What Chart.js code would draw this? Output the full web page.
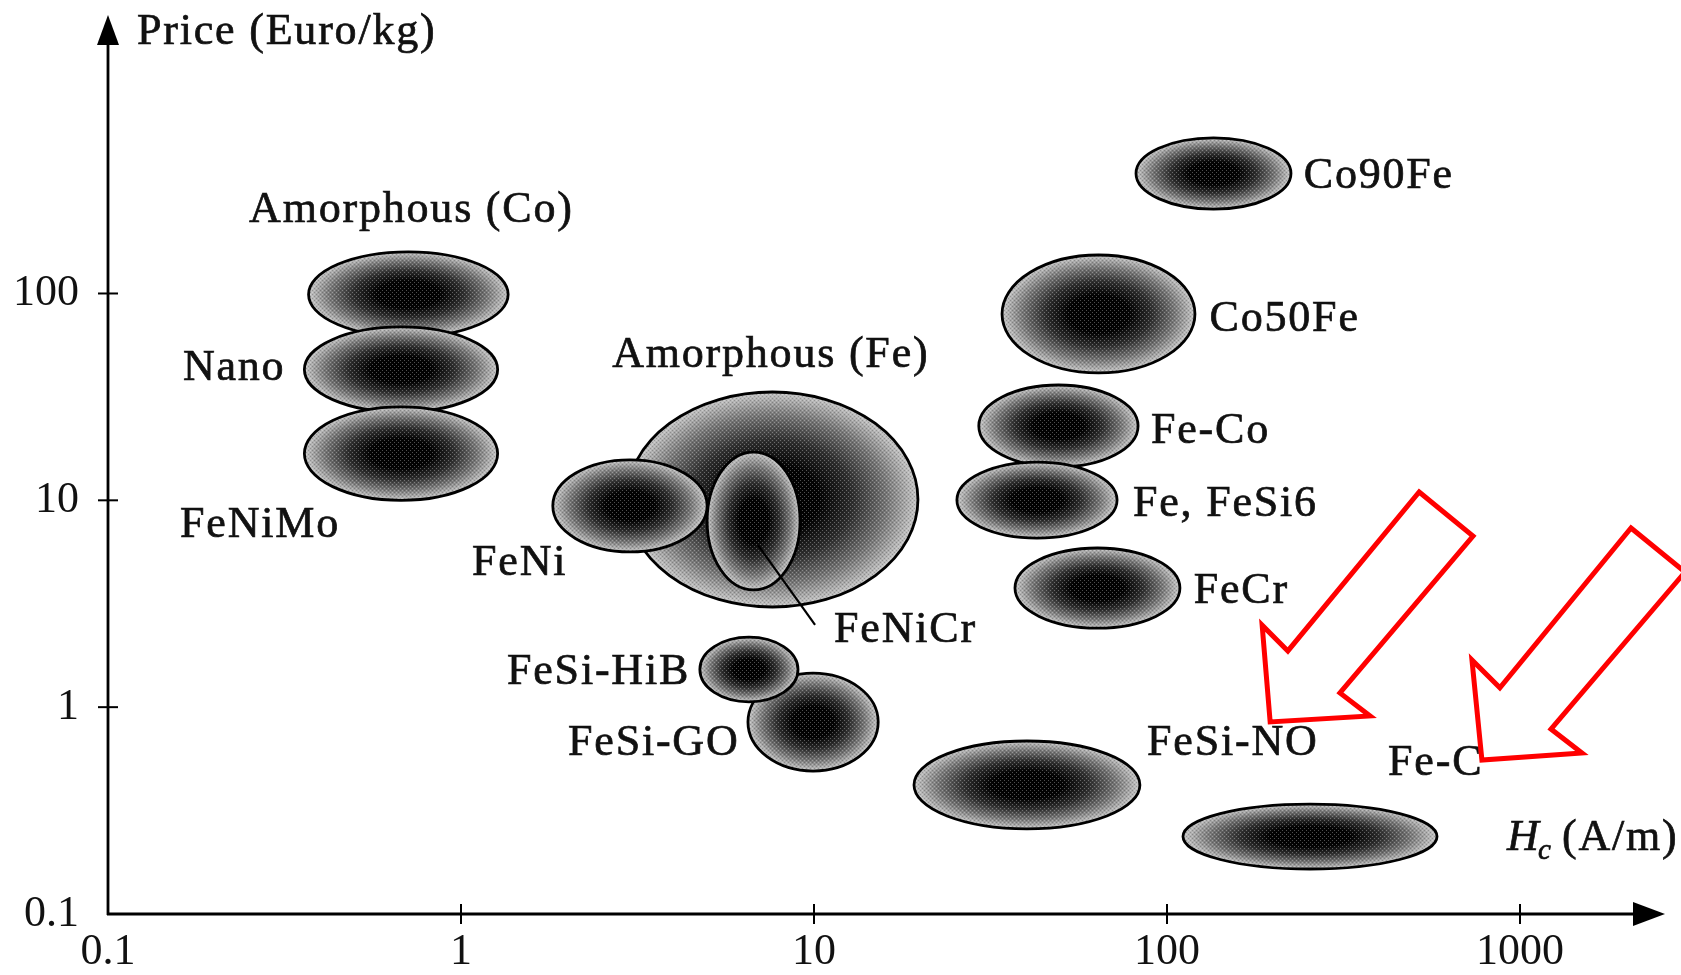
<!DOCTYPE html>
<html><head><meta charset="utf-8">
<script src="https://cdn.jsdelivr.net/npm/chart.js@4.4.1/dist/chart.umd.min.js"></script>
<style>html,body{margin:0;padding:0;background:#fff;}canvas{display:block}</style>
</head><body>
<canvas id="c" width="1681" height="975"></canvas>
<script>
// ---- data (Hc in A/m, price in Euro/kg) ----
const materials = ['Amorphous (Co)', 'Nano', 'FeNiMo', 'Amorphous (Fe)', 'FeNi', 'FeNiCr', 'FeSi-GO', 'FeSi-HiB', 'FeSi-NO', 'Fe-C', 'Co90Fe', 'Co50Fe', 'Fe-Co', 'Fe, FeSi6', 'FeCr'];
const hcLow     = [0.37, 0.36, 0.36, 2.95, 1.82, 4.98, 6.5, 4.75, 19.2, 111, 81.7, 34.1, 29.3, 25.4, 37.1];
const hcHigh    = [1.36, 1.27, 1.27, 19.7, 4.98, 9.13, 15.2, 9.01, 83.8, 582, 224.5, 120, 82.8, 72.2, 108.8];
const priceLow  = [61.6, 26.7, 10.0, 3.05, 5.63, 3.69, 0.491, 1.06, 0.258, 0.165, 256, 41.3, 14.5, 6.57, 2.41];
const priceHigh = [159, 68.9, 28.3, 33.4, 15.7, 17.1, 1.46, 2.18, 0.686, 0.340, 565, 153.5, 36.1, 15.3, 5.88];
// label anchors (left edge, vertical middle)
const labelHc    = [0.251, 0.163, 0.160, 2.68, 1.075, 11.4, 2.01, 1.35, 87.8, 423, 244, 132, 90.1, 80.1, 119];
const labelPrice = [253, 43.6, 7.60, 50.4, 4.98, 2.36, 0.671, 1.479, 0.671, 0.537, 366, 75.3, 21.6, 9.60, 3.61];
// FeNiCr leader line
const leaderHc = [6.94, 10.07];
const leaderPrice = [6.08, 2.50];
// red arrows (outline vertices)
const arrow1Hc    = [518, 736, 309, 376, 196, 186, 220];
const arrow1Price = [10.97, 6.72, 1.171, 0.906, 0.848, 2.49, 1.87];
const arrow2Hc    = [2063, 2934, 1224, 1498, 780, 731, 877];
const arrow2Price = [7.35, 4.50, 0.784, 0.600, 0.555, 1.69, 1.24];
// axes
const xTicks = [0.1, 1, 10, 100, 1000];
const xTickLabels = ['0.1', '1', '10', '100', '1000'];
const yTicks = [0.1, 1, 10, 100];
const yTickLabels = ['0.1', '1', '10', '100'];
const xTitle = ['H', 'c', '(A/m)'];
const yTitle = 'Price (Euro/kg)';

const SERIF = '"Liberation Serif", "Times New Roman", serif';

// halftone-like texture tile
const tile = document.createElement('canvas');
tile.width = 4; tile.height = 4;
(function(){
  const t = tile.getContext('2d');
  t.fillStyle = 'rgba(255,255,255,0.3)';
  t.fillRect(0,0,1,1); t.fillRect(2,2,1,1);
  t.fillStyle = 'rgba(0,0,0,0.2)';
  t.fillRect(2,0,1,1); t.fillRect(0,2,1,1);
})();

const ellipsePlugin = {
  id: 'ellipses',
  beforeDatasetsDraw(chart) {
    const {ctx, scales: {x, y}} = chart;
    const pat = ctx.createPattern(tile, 'repeat');
    for (let i = 0; i < materials.length; i++) {
      const x0 = x.getPixelForValue(hcLow[i]), x1 = x.getPixelForValue(hcHigh[i]);
      const y0 = y.getPixelForValue(priceHigh[i]), y1 = y.getPixelForValue(priceLow[i]);
      const cx = (x0 + x1) / 2, cy = (y0 + y1) / 2, rx = (x1 - x0) / 2, ry = (y1 - y0) / 2;
      ctx.save();
      ctx.beginPath();
      ctx.ellipse(cx, cy, rx, ry, 0, 0, Math.PI * 2);
      ctx.save();
      ctx.translate(cx, cy); ctx.scale(rx, ry);
      const g = ctx.createRadialGradient(0, 0, 0, 0, 0, 1);
      g.addColorStop(0, '#000');
      g.addColorStop(0.32, '#030303');
      g.addColorStop(0.55, '#2e2e2e');
      g.addColorStop(0.78, '#757575');
      g.addColorStop(0.93, '#adadad');
      g.addColorStop(1, '#c8c8c8');
      ctx.fillStyle = g;
      ctx.fill();
      ctx.restore();
      ctx.fillStyle = pat;
      ctx.fill();
      ctx.lineWidth = 2.8;
      ctx.strokeStyle = '#000';
      ctx.stroke();
      ctx.restore();
    }
    // leader line for FeNiCr
    ctx.save();
    ctx.beginPath();
    ctx.moveTo(x.getPixelForValue(leaderHc[0]), y.getPixelForValue(leaderPrice[0]));
    ctx.lineTo(x.getPixelForValue(leaderHc[1]), y.getPixelForValue(leaderPrice[1]));
    ctx.lineWidth = 2.2; ctx.strokeStyle = '#000'; ctx.stroke();
    ctx.restore();
  }
};

function txt(ctx, s, px, py) {
  ctx.fillText(s, px, py);
  ctx.strokeText(s, px, py);
}

const axesPlugin = {
  id: 'axesArrows',
  afterDraw(chart) {
    const {ctx, chartArea: a, scales: {x, y}} = chart;
    ctx.save();
    ctx.strokeStyle = '#000'; ctx.fillStyle = '#000'; ctx.lineWidth = 2.8;
    // y axis
    ctx.beginPath(); ctx.moveTo(a.left, a.bottom + 1); ctx.lineTo(a.left, a.top + 20); ctx.stroke();
    ctx.beginPath(); ctx.moveTo(a.left, a.top); ctx.lineTo(a.left + 11, a.top + 30); ctx.lineTo(a.left - 11, a.top + 30); ctx.closePath(); ctx.fill();
    // x axis
    ctx.beginPath(); ctx.moveTo(a.left - 1, a.bottom); ctx.lineTo(a.right - 20, a.bottom); ctx.stroke();
    ctx.beginPath(); ctx.moveTo(a.right, a.bottom); ctx.lineTo(a.right - 32, a.bottom - 12); ctx.lineTo(a.right - 32, a.bottom + 12); ctx.closePath(); ctx.fill();
    // tick marks
    ctx.lineWidth = 2;
    xTicks.forEach((v, i) => { if (i === 0) return; const px = x.getPixelForValue(v); ctx.beginPath(); ctx.moveTo(px, a.bottom - 10); ctx.lineTo(px, a.bottom + 10); ctx.stroke(); });
    yTicks.forEach((v, i) => { if (i === 0) return; const py = y.getPixelForValue(v); ctx.beginPath(); ctx.moveTo(a.left - 10, py); ctx.lineTo(a.left + 10, py); ctx.stroke(); });
    // axis titles
    ctx.fillStyle = '#111'; ctx.strokeStyle = '#111'; ctx.lineWidth = 0.7;
    ctx.textBaseline = 'middle'; ctx.textAlign = 'left';
    ctx.letterSpacing = '1.8px';
    ctx.font = '44px ' + SERIF;
    txt(ctx, yTitle, a.left + 29, a.top + 17);
    const hx = a.right - 158, hy = a.bottom - 76;
    ctx.font = 'italic 44px ' + SERIF;
    txt(ctx, xTitle[0], hx, hy);
    ctx.font = 'italic 29px ' + SERIF;
    txt(ctx, xTitle[1], hx + 31, hy + 13);
    ctx.font = '44px ' + SERIF;
    txt(ctx, xTitle[2], hx + 55, hy);
    // material labels
    materials.forEach((m, i) => {
      txt(ctx, m, x.getPixelForValue(labelHc[i]), y.getPixelForValue(labelPrice[i]));
    });
    // red arrows
    ctx.letterSpacing = '0px';
    ctx.strokeStyle = '#ff0000'; ctx.lineWidth = 5; ctx.lineJoin = 'miter';
    [[arrow1Hc, arrow1Price], [arrow2Hc, arrow2Price]].forEach(([hs, ps]) => {
      ctx.beginPath();
      hs.forEach((h, k) => { const px = x.getPixelForValue(h), py = y.getPixelForValue(ps[k]); k ? ctx.lineTo(px, py) : ctx.moveTo(px, py); });
      ctx.closePath(); ctx.stroke();
    });
    ctx.restore();
  }
};

const centers = materials.map((m, i) => ({x: Math.sqrt(hcLow[i] * hcHigh[i]), y: Math.sqrt(priceLow[i] * priceHigh[i])}));

new Chart(document.getElementById('c'), {
  type: 'scatter',
  data: { datasets: [{ label: 'Materials', data: centers, pointRadius: 0, pointHoverRadius: 0 }] },
  options: {
    responsive: false, animation: false, devicePixelRatio: 1,
    layout: { padding: { top: 15, right: 16, left: 0, bottom: 0 } },
    plugins: { legend: { display: false }, tooltip: { enabled: false } },
    scales: {
      x: {
        type: 'logarithmic', min: 0.1, max: 2575,
        grid: { display: false, drawTicks: false }, border: { display: false },
        ticks: { font: { family: SERIF, size: 44 }, color: '#111', padding: 12, autoSkip: false, maxRotation: 0,
          callback: (v) => { const k = xTicks.indexOf(v); return k >= 0 ? xTickLabels[k] : ''; } },
        afterBuildTicks: (s) => { s.ticks = xTicks.map(v => ({ value: v })); },
        afterFit: (s) => { s.height = 61; s.paddingLeft = 0; s.paddingRight = 0; }
      },
      y: {
        type: 'logarithmic', min: 0.1, max: 2220,
        grid: { display: false, drawTicks: false }, border: { display: false },
        ticks: { font: { family: SERIF, size: 44 }, color: '#111', padding: 29, autoSkip: false,
          callback: (v) => { const k = yTicks.indexOf(v); return k >= 0 ? yTickLabels[k] : ''; } },
        afterBuildTicks: (s) => { s.ticks = yTicks.map(v => ({ value: v })); },
        afterFit: (s) => { s.width = 108; s.paddingTop = 0; s.paddingBottom = 0; }
      }
    }
  },
  plugins: [ellipsePlugin, axesPlugin]
});
</script>
</body></html>
